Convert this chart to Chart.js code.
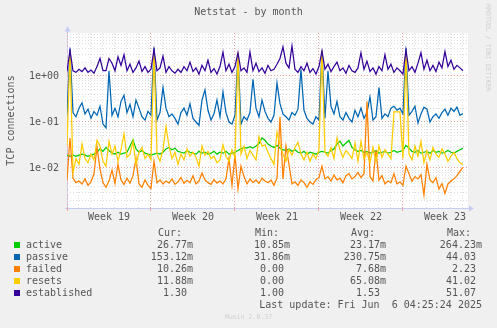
<!DOCTYPE html>
<html>
<head>
<meta charset="utf-8">
<script src="https://cdn.jsdelivr.net/npm/chart.js@4.4.1/dist/chart.umd.min.js"></script>
<style>
  body { margin: 0; background: #f0f0f0; }
  #wrap { position: relative; width: 497px; height: 328px; overflow: hidden;
          font-family: "DejaVu Sans Mono", monospace; font-size: 10px; color: #555; }
  #chartNetstat { position: absolute; left: 0; top: 0; }
  .t { position: absolute; white-space: pre; line-height: 12px; }
  .sq { position: absolute; width: 6px; height: 6px; }
</style>
</head>
<body>
<div id="wrap">
  <canvas id="chartNetstat" width="497" height="328"></canvas>
  <div class="t" style="left:0;width:497px;top:6px;text-align:center;">Netstat - by month</div>
  <div class="t" style="left:484px;top:4px;font-size:6.6px;line-height:8px;color:#cfcfcf;writing-mode:vertical-rl;">RRDTOOL / TOBI OETIKER</div>
  <div class="t" style="left:0;width:497px;top:313px;line-height:8px;font-size:6.6px;text-align:center;color:#cfcfcf;">Munin 2.0.37</div>
  <div id="legend"></div>
</div>
<script>
const weekLabels = ['Week 19', 'Week 20', 'Week 21', 'Week 22', 'Week 23'];
const dayCount = 33.42;   // days visible on the x axis
const sampleStep = 0.25;  // days between samples

const seriesNames = ['active', 'passive', 'failed', 'resets', 'established'];
const seriesColors = ['#00cc00', '#0066b3', '#ff8000', '#ffcc00', '#330099'];
const minText = ['10.85m', '31.86m', '0.00 ', '0.00 ', '1.00 '];
const avgText = ['23.17m', '230.75m', '7.68m', '65.08m', '1.53 '];
const maxText = ['264.23m', '44.03 ', '2.23 ', '41.02 ', '51.07 '];

const active = [
  0.019, 0.018, 0.019, 0.018, 0.019, 0.02, 0.019, 0.018, 0.019, 0.02,
  0.022, 0.026, 0.023, 0.028, 0.024, 0.021, 0.02, 0.022, 0.02, 0.021,
  0.022, 0.03, 0.041, 0.026, 0.022, 0.024, 0.021, 0.02, 0.019, 0.02,
  0.021, 0.02, 0.022, 0.026, 0.028, 0.025, 0.027, 0.023, 0.022, 0.021,
  0.024, 0.022, 0.021, 0.02, 0.023, 0.021, 0.022, 0.02, 0.021, 0.023,
  0.02, 0.022, 0.021, 0.023, 0.02, 0.021, 0.022, 0.024, 0.026, 0.028,
  0.027, 0.029, 0.027, 0.03, 0.034, 0.045, 0.04, 0.033, 0.03, 0.028,
  0.031, 0.027, 0.025, 0.024, 0.026, 0.023, 0.025, 0.022, 0.021, 0.023,
  0.02, 0.022, 0.021, 0.02, 0.022, 0.023, 0.022, 0.021, 0.024, 0.026,
  0.033, 0.038, 0.03, 0.035, 0.04, 0.028, 0.025, 0.023, 0.024, 0.022,
  0.023, 0.021, 0.022, 0.024, 0.021, 0.022, 0.023, 0.021, 0.022, 0.024,
  0.022, 0.023, 0.024, 0.031, 0.027, 0.023, 0.022, 0.024, 0.021, 0.022,
  0.023, 0.021, 0.024, 0.022, 0.023, 0.021, 0.022, 0.024, 0.022, 0.021,
  0.023, 0.025, 0.02677
];

const passive = [
  0.14, 3.9, 0.16, 0.13, 0.2, 0.26, 0.15, 0.19, 0.12, 0.17,
  0.14, 0.22, 0.09, 0.075, 1.3, 0.14, 0.2, 0.13, 0.28, 0.38,
  0.16, 0.24, 0.13, 0.3, 0.2, 0.13, 0.11, 0.17, 0.14, 4.1,
  0.11, 0.16, 0.56, 0.2, 0.13, 0.15, 0.12, 0.09, 0.16, 0.2,
  0.14, 0.25, 0.12, 0.1, 0.085, 0.3, 0.5, 0.18, 0.11, 0.15,
  0.3, 0.13, 0.45, 0.16, 0.1, 0.09, 0.14, 3.0, 0.09, 0.13,
  0.11, 0.16, 0.85, 0.2, 0.13, 0.3, 0.17, 0.12, 0.1, 0.14,
  0.7, 0.25, 0.15, 0.13, 0.11, 0.16, 0.14, 0.19, 1.4, 0.18,
  0.12, 0.1, 0.09, 0.13, 0.11, 3.6, 0.12, 1.3, 0.22, 0.15,
  0.28, 0.13, 0.11, 0.16, 0.12, 0.1, 0.18, 0.13, 0.2, 0.12,
  0.16, 0.35, 0.11, 0.13, 0.56, 0.12, 0.15, 0.13, 0.2, 0.22,
  0.18, 0.2, 0.15, 4.0, 0.14, 0.17, 0.22, 0.095, 0.15, 0.21,
  0.19, 0.1, 0.13, 0.15, 0.12, 0.16, 0.19, 0.14, 0.2, 0.17,
  0.21, 0.14, 0.15312
];

const failed = [
  0.0055, 0.045, 0.006, 0.0048, 0.0052, 0.0045, 0.0058, 0.0042, 0.005, 0.0075,
  0.029, 0.0095, 0.0048, 0.0038, 0.0052, 0.009, 0.0046, 0.012, 0.0055, 0.0044,
  0.006, 0.0047, 0.0068, 0.016, 0.0045, 0.0038, 0.0055, 0.0042, 0.0036, 0.014,
  0.0048, 0.0055, 0.0045, 0.0052, 0.0047, 0.0058, 0.0044, 0.005, 0.0062, 0.0046,
  0.0054, 0.0048, 0.0068, 0.0045, 0.0052, 0.0078, 0.0055, 0.0048, 0.0044, 0.0056,
  0.0047, 0.0052, 0.0045, 0.0058, 0.016, 0.0042, 0.019, 0.0035, 0.011, 0.0065,
  0.0045, 0.0058, 0.0048, 0.0055, 0.0046, 0.006, 0.0052, 0.0048, 0.0055, 0.0042,
  0.006, 0.13, 0.0058, 0.03, 0.012, 0.0045, 0.005, 0.0042, 0.0055, 0.0048,
  0.0038, 0.005, 0.0044, 0.0056, 0.0062, 0.011, 0.0058, 0.0065, 0.0052, 0.007,
  0.0055, 0.006, 0.0048, 0.0068, 0.0075, 0.0058, 0.0065, 0.008, 0.0062, 0.0075,
  0.28, 0.0065, 0.0052, 0.024, 0.0055, 0.0068, 0.0045, 0.0052, 0.0048, 0.0075,
  0.0045, 0.005, 0.0042, 0.011, 0.0075, 0.0052, 0.0065, 0.0058, 0.0072, 0.0026,
  0.012, 0.0055, 0.0048, 0.0062, 0.0035, 0.0046, 0.0028, 0.0045, 0.0052, 0.0058,
  0.0068, 0.0085, 0.01026
];

const resets = [
  0.03, 3.4, 0.008, 0.016, 0.012, 0.033, 0.016, 0.013, 0.02, 0.015,
  0.04, 0.03, 0.014, 0.011, 0.038, 0.02, 0.03, 0.014, 0.025, 0.055,
  0.017, 0.02, 0.038, 0.012, 0.022, 0.028, 0.016, 0.02, 0.015, 3.5,
  0.02, 0.014, 0.025, 0.08, 0.03, 0.016, 0.022, 0.012, 0.02, 0.015,
  0.026, 0.018, 0.022, 0.017, 0.011, 0.03, 0.019, 0.023, 0.016, 0.018,
  0.013, 0.015, 0.032, 0.018, 0.014, 0.025, 0.017, 3.3, 0.02, 0.03,
  0.016, 0.024, 0.019, 0.015, 0.048, 0.03, 0.032, 0.022, 0.016, 0.012,
  0.06, 0.033, 0.02, 0.014, 0.025, 0.019, 0.028, 0.036, 0.02, 0.015,
  0.022, 0.014, 0.02, 0.016, 0.025, 3.6, 0.022, 0.018, 0.028, 0.016,
  0.045, 0.025, 0.017, 0.024, 0.02, 0.016, 0.035, 0.014, 0.038, 0.016,
  0.022, 0.013, 0.028, 0.014, 0.03, 0.017, 0.025, 0.02, 0.016, 0.165,
  0.165, 0.165, 0.016, 3.5, 0.02, 0.015, 0.03, 0.018, 0.038, 0.013,
  0.024, 0.015, 0.028, 0.02, 0.017, 0.026, 0.02, 0.014, 0.018, 0.022,
  0.016, 0.013, 0.01188
];

const established = [
  1.25, 3.6, 1.3, 1.2, 1.4, 1.25, 1.5, 1.2, 1.35, 1.15,
  1.6, 2.4, 1.3, 1.3, 2.4, 1.9, 1.3, 2.6, 1.7, 2.9,
  1.3, 1.8, 1.2, 1.5, 2.1, 1.25, 1.6, 1.2, 1.4, 3.8,
  1.3, 1.5, 2.7, 1.2, 1.6, 1.3, 1.15, 1.4, 1.2, 1.6,
  1.3, 2.0, 1.25, 1.5, 1.1, 1.7, 1.3, 2.2, 1.2, 1.45,
  1.1, 1.6, 3.3, 1.3, 1.8, 1.2, 1.6, 3.2, 1.3, 1.5,
  1.2, 3.3, 1.3, 1.9, 1.25, 1.5, 1.15, 1.7, 1.3, 1.4,
  1.8, 2.4, 4.3, 1.9, 1.5, 4.5, 1.4, 1.2, 1.6, 1.3,
  1.9, 1.2, 1.45, 1.1, 1.6, 3.5, 1.4, 1.8, 1.25, 1.6,
  2.0, 1.3, 1.5, 1.15, 1.7, 1.3, 1.2, 1.5, 3.2, 1.4,
  2.1, 1.25, 1.5, 1.1, 1.6, 1.3, 2.9, 1.4, 1.8, 1.2,
  1.5, 1.3, 1.1, 3.7, 1.3, 1.6, 1.2, 1.9, 3.2, 1.4,
  2.2, 1.3, 1.7, 1.25, 2.0, 1.5, 3.4, 1.6, 2.2, 1.4,
  1.7, 1.5, 1.3
];

const seriesValues = [active, passive, failed, resets, established];

const monoFont = '"DejaVu Sans Mono", monospace';
const textColor = '#555';
const gridMinor = '#dedede';
const gridMajor = '#f0a0a0';
const axisColor = '#c6ccf4';

function expLabel(v) {
  const e = Math.round(Math.log10(v));
  return '1e' + (e < 0 ? '-' : '+') + String(Math.abs(e)).padStart(2, '0');
}

function siText(v) {
  return v < 1 ? (v * 1000).toFixed(2) + 'm' : v.toFixed(2) + ' ';
}

// white plot area plus axis lines with arrow heads, under the grid
const plotFrame = {
  id: 'plotFrame',
  beforeDraw(chart) {
    const a = chart.chartArea;
    const c = chart.ctx;
    c.save();
    c.fillStyle = '#ffffff';
    c.fillRect(a.left, a.top, a.right - a.left, a.bottom - a.top);
    c.strokeStyle = axisColor;
    c.fillStyle = axisColor;
    c.lineWidth = 1;
    c.beginPath();
    c.moveTo(a.left + 0.5, a.bottom + 2);
    c.lineTo(a.left + 0.5, a.top - 3);
    c.moveTo(a.left - 2, a.bottom + 0.5);
    c.lineTo(a.right + 2, a.bottom + 0.5);
    c.stroke();
    c.beginPath();
    c.moveTo(a.left + 0.5, a.top - 7);
    c.lineTo(a.left + 3.5, a.top - 1.5);
    c.lineTo(a.left - 2.5, a.top - 1.5);
    c.closePath();
    c.fill();
    c.beginPath();
    c.moveTo(a.right + 6, a.bottom + 0.5);
    c.lineTo(a.right + 1, a.bottom - 2.5);
    c.lineTo(a.right + 1, a.bottom + 3.5);
    c.closePath();
    c.fill();
    c.restore();
  }
};

const datasets = seriesNames.map((name, k) => ({
  label: name,
  data: seriesValues[k].map((v, i) => ({ x: i * sampleStep, y: v })),
  borderColor: seriesColors[k],
  borderWidth: 1.25,
  pointRadius: 0,
  fill: false,
  tension: 0,
  order: seriesNames.length - k
}));

const ctx = document.getElementById('chartNetstat').getContext('2d');
const chart = new Chart(ctx, {
  type: 'line',
  data: { datasets: datasets },
  plugins: [plotFrame],
  options: {
    responsive: false,
    animation: false,
    devicePixelRatio: 1,
    layout: { padding: { left: 0, right: 29, top: 33, bottom: 100 } },
    plugins: { legend: { display: false }, tooltip: { enabled: false } },
    scales: {
      x: {
        type: 'linear',
        min: 0,
        max: dayCount,
        afterBuildTicks(scale) {
          const ticks = [];
          for (let d = 0; d <= Math.floor(dayCount); d++) ticks.push({ value: d });
          scale.ticks = ticks;
        },
        afterFit(scale) { scale.height = 0; },
        ticks: { display: false, autoSkip: false },
        border: { display: false, dash: [1, 2] },
        grid: {
          color: c => (c.tick && c.tick.value % 7 === 0) ? gridMajor : gridMinor,
          drawTicks: true,
          tickLength: 3,
          tickColor: c => (c.tick && c.tick.value % 7 === 0) ? gridMajor : 'rgba(0,0,0,0)'
        }
      },
      x2: {
        type: 'linear',
        position: 'bottom',
        weight: 1,
        min: 0,
        max: dayCount,
        afterBuildTicks(scale) {
          scale.ticks = weekLabels.map((w, i) => ({ value: i * 7 + 3.5 }));
        },
        afterFit(scale) { scale.height = 20; },
        grid: { display: false, drawTicks: false },
        border: { display: false },
        ticks: {
          autoSkip: false,
          maxRotation: 0,
          padding: 3,
          color: textColor,
          font: { family: monoFont, size: 10 },
          callback: (v, i) => weekLabels[i]
        }
      },
      y: {
        type: 'logarithmic',
        min: 0.00135,
        max: 8.6,
        afterBuildTicks(scale) {
          const ticks = [];
          for (let e = -3; e <= 0; e++) {
            for (let s = 1; s <= 9; s++) {
              const v = s * Math.pow(10, e);
              if (v >= scale.min && v <= scale.max) ticks.push({ value: v, major: s === 1 });
            }
          }
          scale.ticks = ticks;
        },
        afterFit(scale) { scale.width = 67; },
        border: { display: false, dash: [1, 2] },
        grid: {
          drawTicks: false,
          color: c => (c.tick && c.tick.major) ? gridMajor : gridMinor
        },
        ticks: {
          autoSkip: false,
          padding: 8,
          color: textColor,
          font: { family: monoFont, size: 10 },
          callback: (v, i, ticks) => ticks[i].major ? expLabel(v) : ''
        },
        title: {
          display: true,
          text: 'TCP connections',
          color: textColor,
          font: { family: monoFont, size: 10 },
          padding: { top: 5, bottom: 0 }
        }
      }
    }
  }
});

// legend table under the plot
const legend = document.getElementById('legend');
function addText(text, style) {
  const d = document.createElement('div');
  d.className = 't';
  d.textContent = text;
  Object.assign(d.style, style);
  legend.appendChild(d);
}
const colRight = [304, 207, 111, 15];
const colHeadLeft = [158, 255, 351, 447];
['Cur:', 'Min:', 'Avg:', 'Max:'].forEach((h, j) => addText(h, { left: colHeadLeft[j] + 'px', top: '227px' }));
seriesNames.forEach((name, k) => {
  const top = 239 + k * 12;
  const sq = document.createElement('div');
  sq.className = 'sq';
  sq.style.left = '14px';
  sq.style.top = (top + 3) + 'px';
  sq.style.background = seriesColors[k];
  legend.appendChild(sq);
  addText(name, { left: '26px', top: top + 'px' });
  const values = seriesValues[k];
  const cells = [siText(values[values.length - 1]), minText[k], avgText[k], maxText[k]];
  cells.forEach((t, j) => addText(t, { right: colRight[j] + 'px', top: top + 'px' }));
});
addText('Last update: Fri Jun  6 04:25:24 2025', { right: '15px', top: '299px' });
</script>
</body>
</html>
